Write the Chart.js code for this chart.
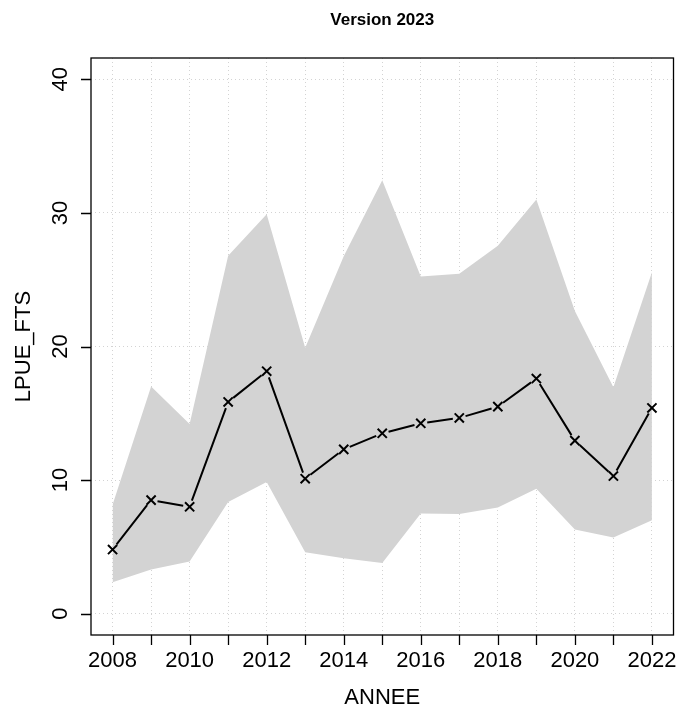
<!DOCTYPE html>
<html>
<head>
<meta charset="utf-8">
<title>LPUE_FTS</title>
<script src="https://cdn.jsdelivr.net/npm/chart.js@4.4.1/dist/chart.umd.min.js"></script>
<style>
  html, body { margin: 0; padding: 0; background: #ffffff; }
  canvas { display: block; }
</style>
</head>
<body>
<canvas id="lpueChart" width="682" height="710"></canvas>
<script>
// yearly LPUE with its confidence band
const years = [2008, 2009, 2010, 2011, 2012, 2013, 2014, 2015, 2016, 2017, 2018, 2019, 2020, 2021, 2022];
const lpue = [4.8, 8.5, 8.0, 15.85, 18.15, 10.1, 12.3, 13.5, 14.25, 14.65, 15.5, 17.6, 12.95, 10.3, 15.4];
const lpueLow = [2.35, 3.3, 3.9, 8.35, 9.85, 4.6, 4.15, 3.8, 7.5, 7.45, 7.95, 9.35, 6.3, 5.7, 7.0];
const lpueHigh = [8.15, 17.0, 14.2, 26.8, 29.9, 19.9, 26.75, 32.45, 25.25, 25.45, 27.55, 31.0, 22.65, 16.95, 25.55];

const xTickLabels = [2008, 2010, 2012, 2014, 2016, 2018, 2020, 2022];
const yTicks = [0, 10, 20, 30, 40];

const FONT = "'Liberation Sans', Arial, Helvetica, sans-serif";
const BAND = "#d3d3d3";

// R-like axes: box, outward ticks, rotated y labels, titles
const baseAxes = {
    id: "baseAxes",
    afterDatasetsDraw(chart) {
        const ctx = chart.ctx;
        const pts = chart.getDatasetMeta(2).data;

        // connecting segments, stopped short of the markers
        const gap = 6.5;
        ctx.save();
        ctx.strokeStyle = "#000";
        ctx.lineWidth = 2;
        ctx.beginPath();
        for (let i = 0; i < pts.length - 1; i++) {
            const a = pts[i], b = pts[i + 1];
            const dx = b.x - a.x, dy = b.y - a.y;
            const len = Math.sqrt(dx * dx + dy * dy);
            if (len <= 2 * gap) continue;
            const ux = dx / len, uy = dy / len;
            ctx.moveTo(a.x + ux * gap, a.y + uy * gap);
            ctx.lineTo(b.x - ux * gap, b.y - uy * gap);
        }
        ctx.stroke();
        ctx.restore();
    },
    afterDraw(chart) {
        const ctx = chart.ctx;
        const area = chart.chartArea;
        const xs = chart.scales.x;
        const ys = chart.scales.y;

        ctx.save();
        ctx.strokeStyle = "#000";
        ctx.fillStyle = "#000";
        ctx.lineWidth = 1.3;
        ctx.strokeRect(area.left, area.top, area.right - area.left, area.bottom - area.top);

        ctx.beginPath();
        years.forEach(v => {
            const x = Math.round(xs.getPixelForValue(v)) + 0.5;
            ctx.moveTo(x, area.bottom);
            ctx.lineTo(x, area.bottom + 10);
        });
        yTicks.forEach(v => {
            const y = Math.round(ys.getPixelForValue(v)) + 0.5;
            ctx.moveTo(area.left, y);
            ctx.lineTo(area.left - 10, y);
        });
        ctx.stroke();

        ctx.font = "22px " + FONT;
        ctx.textAlign = "center";
        ctx.textBaseline = "middle";
        xTickLabels.forEach(v => {
            ctx.fillText(String(v), xs.getPixelForValue(v), area.bottom + 26);
        });
        yTicks.forEach(v => {
            ctx.save();
            ctx.translate(area.left - 30, ys.getPixelForValue(v));
            ctx.rotate(-Math.PI / 2);
            ctx.fillText(String(v), 0, 0);
            ctx.restore();
        });

        const cx = (area.left + area.right) / 2;
        const cy = (area.top + area.bottom) / 2;
        ctx.fillText("ANNEE", cx, area.bottom + 63);
        ctx.save();
        ctx.translate(24, cy);
        ctx.rotate(-Math.PI / 2);
        ctx.fillText("LPUE_FTS", 0, 0);
        ctx.restore();

        ctx.font = "bold 17px " + FONT;
        ctx.fillText("Version 2023", cx, 20);
        ctx.restore();
    }
};

const gridOpts = {
    color: BAND,
    lineWidth: 1,
    drawTicks: false
};

new Chart(document.getElementById("lpueChart"), {
    type: "scatter",
    data: {
        datasets: [
            {
                label: "upper",
                data: years.map((x, i) => ({ x: x, y: lpueHigh[i] })),
                showLine: true,
                borderWidth: 0,
                borderColor: "rgba(0,0,0,0)",
                backgroundColor: BAND,
                pointRadius: 0,
                fill: "+1",
                order: 2
            },
            {
                label: "lower",
                data: years.map((x, i) => ({ x: x, y: lpueLow[i] })),
                showLine: true,
                borderWidth: 0,
                borderColor: "rgba(0,0,0,0)",
                pointRadius: 0,
                fill: false,
                order: 3
            },
            {
                label: "LPUE_FTS",
                data: years.map((x, i) => ({ x: x, y: lpue[i] })),
                showLine: false,
                pointStyle: "crossRot",
                pointRadius: 6.5,
                pointBorderWidth: 2,
                pointBorderColor: "#000",
                pointBackgroundColor: "#000",
                order: 0
            }
        ]
    },
    options: {
        responsive: false,
        animation: false,
        layout: { padding: { left: 91, right: 5, top: 58, bottom: 75 } },
        plugins: {
            legend: { display: false },
            tooltip: { enabled: false },
            title: { display: false },
            filler: { drawTime: "beforeDatasetsDraw" }
        },
        scales: {
            x: {
                type: "linear",
                min: 2007.44,
                max: 2022.56,
                afterBuildTicks: scale => { scale.ticks = years.map(v => ({ value: v })); },
                afterFit: scale => { scale.height = 0; },
                ticks: { display: false },
                grid: gridOpts,
                border: { display: false, dash: [1, 3] }
            },
            y: {
                type: "linear",
                min: -1.6,
                max: 41.6,
                afterBuildTicks: scale => { scale.ticks = yTicks.map(v => ({ value: v })); },
                afterFit: scale => { scale.width = 0; },
                ticks: { display: false },
                grid: gridOpts,
                border: { display: false, dash: [1, 3] }
            }
        }
    },
    plugins: [baseAxes]
});
</script>
</body>
</html>
